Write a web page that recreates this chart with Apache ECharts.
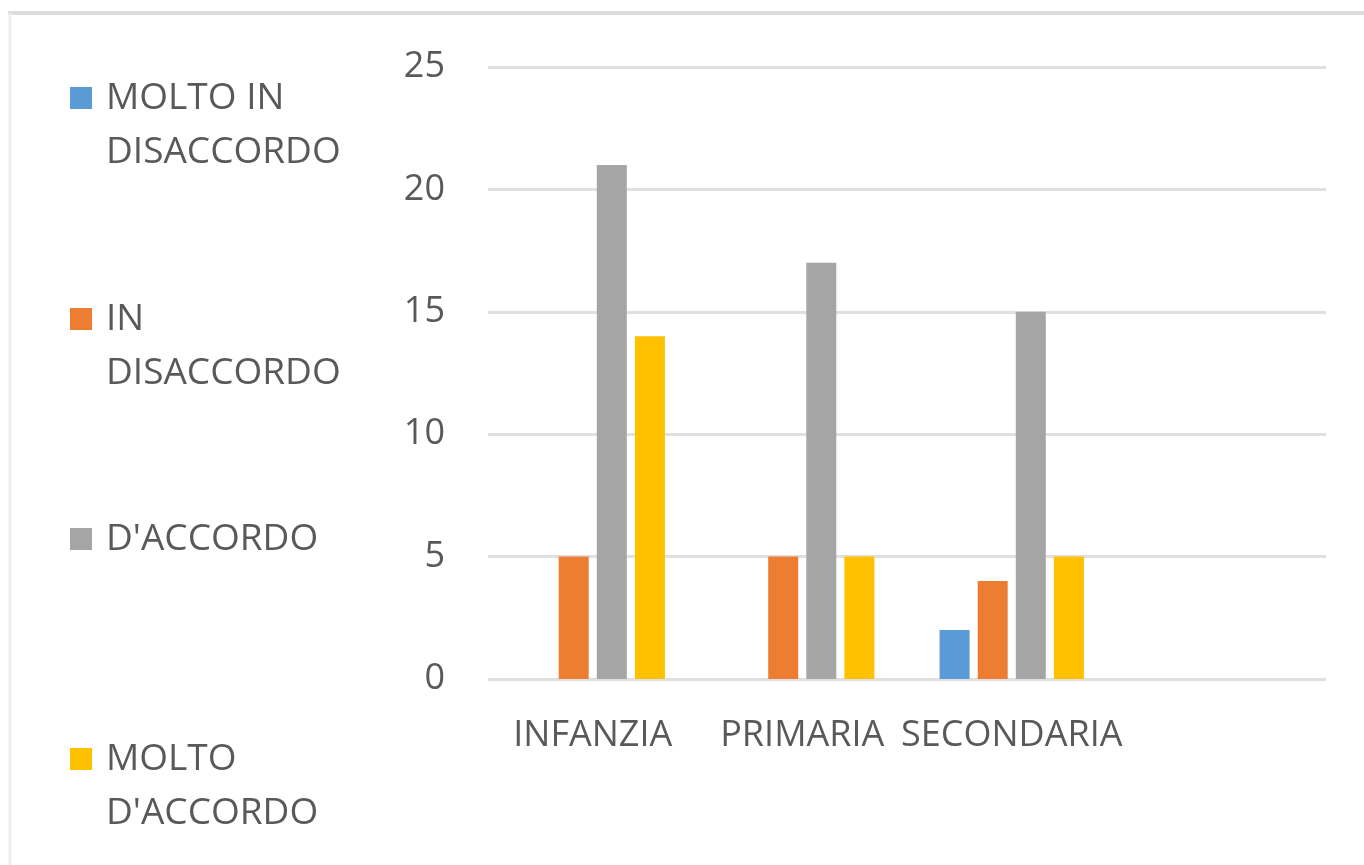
<!DOCTYPE html>
<html>
<head>
<meta charset="utf-8">
<script src="https://cdn.jsdelivr.net/npm/echarts@6/dist/echarts.min.js"></script>
<style>html,body{margin:0;padding:0;background:#fff;}#c{width:1364px;height:865px;}</style>
</head>
<body>
<div id="c"></div>
<script>
const categories = ['INFANZIA', 'PRIMARIA', 'SECONDARIA', ''];
const seriesNames = ['MOLTO IN DISACCORDO', 'IN DISACCORDO', "D'ACCORDO", "MOLTO D'ACCORDO"];
const legendLabels = ['MOLTO IN\nDISACCORDO', 'IN\nDISACCORDO', "D'ACCORDO", "MOLTO\nD'ACCORDO"];
const moltoInDisaccordo = [null, null, 2, null];
const inDisaccordo = [5, 5, 4, null];
const dAccordo = [21, 17, 15, null];
const moltoDAccordo = [14, 5, 5, null];
const yTicks = [0, 5, 10, 15, 20, 25];
const colors = ['#5b9bd5', '#ed7d31', '#a5a5a5', '#ffc000'];

const values = [moltoInDisaccordo, inDisaccordo, dAccordo, moltoDAccordo];
const FONT = '"Open Sans", sans-serif';
const TXT = '#595959';
const legendTops = [17, 238, 512, 678];

const chart = echarts.init(document.getElementById('c'), null, {renderer: 'canvas'});
chart.setOption({
  animation: false,
  backgroundColor: '#fff',
  color: colors,
  grid: {left: 488, right: 38, top: 67, bottom: 186, containLabel: false},
  legend: seriesNames.map((n, i) => ({
    data: [n],
    left: 70,
    top: legendTops[i],
    padding: 0,
    orient: 'vertical',
    selectedMode: false,
    icon: 'rect',
    itemWidth: 22,
    itemHeight: 22,
    formatter: () => (legendLabels[i].indexOf('\n') >= 0 ? '\n' : '') + legendLabels[i],
    textStyle: {fontFamily: FONT, fontSize: 37, color: TXT, lineHeight: 54, padding: [0, 0, 0, 9]}
  })),
  xAxis: {
    type: 'category',
    data: categories,
    axisLine: {show: false},
    axisTick: {show: false},
    axisLabel: {fontFamily: FONT, fontSize: 36, color: TXT, margin: 39, interval: 0}
  },
  yAxis: {
    type: 'value',
    min: 0, max: 25, interval: 5,
    axisLine: {show: false},
    axisTick: {show: false},
    axisLabel: {fontFamily: FONT, fontSize: 36, color: TXT, margin: 43,
      formatter: v => yTicks.includes(v) ? String(v) : ''},
    splitLine: {lineStyle: {color: '#e0e0e0', width: 3}}
  },
  series: seriesNames.map((n, i) => ({
    name: n,
    type: 'bar',
    data: values[i],
    barWidth: 30,
    barGap: '27%',
    itemStyle: {color: colors[i]}
  })),
  graphic: [
    {type: 'line', shape: {x1: 8, y1: 13, x2: 1364, y2: 13}, style: {stroke: '#dcdcdc', lineWidth: 4}, silent: true},
    {type: 'line', shape: {x1: 10, y1: 13, x2: 10, y2: 865}, style: {stroke: '#eeeeee', lineWidth: 3}, silent: true}
  ]
});
</script>
</body>
</html>
